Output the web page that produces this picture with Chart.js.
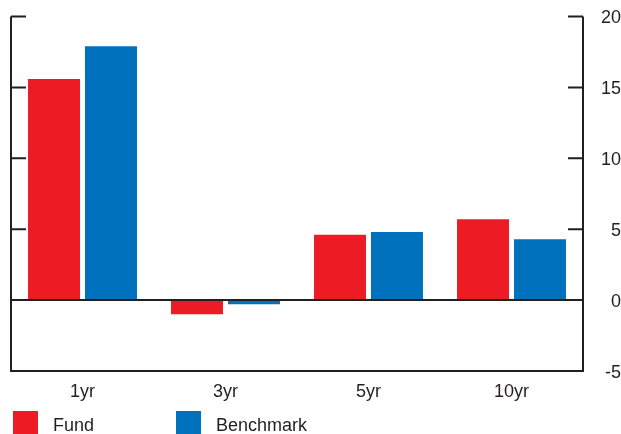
<!DOCTYPE html>
<html>
<head>
<meta charset="utf-8">
<script src="https://cdn.jsdelivr.net/npm/chart.js@4/dist/chart.umd.min.js"></script>
<style>
  html, body { margin: 0; padding: 0; background: #fff; }
  #chart { display: block; }
</style>
</head>
<body>
<canvas id="chart" width="621" height="434"></canvas>
<script>
'use strict';

// periods and returns (%)
const periods = ['1yr', '3yr', '5yr', '10yr'];
const fund = [15.6, -1.0, 4.6, 5.7];
const benchmark = [17.9, -0.3, 4.8, 4.3];
const yTicks = [20, 15, 10, 5, 0, -5];

const INK = '#231f20';
const FONT = '"Liberation Sans", Arial, sans-serif';

// frame, inward tick marks, zero line and the legend row underneath
const framePlugin = {
  id: 'frame',
  afterDatasetsDraw(chart) {
    const ctx = chart.ctx;
    const area = chart.chartArea;
    const y = chart.scales.y;
    const top = y.getPixelForValue(yTicks[0]);
    const bottom = y.getPixelForValue(yTicks[yTicks.length - 1]);

    ctx.save();
    ctx.strokeStyle = INK;
    ctx.lineWidth = 2;
    ctx.beginPath();
    ctx.moveTo(area.left, top);
    ctx.lineTo(area.left, bottom);
    ctx.lineTo(area.right, bottom);
    ctx.lineTo(area.right, top);
    yTicks.forEach(v => {
      const py = y.getPixelForValue(v);
      ctx.moveTo(area.left, py);
      ctx.lineTo(area.left + 15, py);
      ctx.moveTo(area.right - 15, py);
      ctx.lineTo(area.right, py);
    });
    const zero = y.getPixelForValue(0);
    ctx.moveTo(area.left, zero);
    ctx.lineTo(area.right, zero);
    ctx.stroke();

    // legend
    const slots = [13, 176];
    ctx.font = '18px ' + FONT;
    ctx.textBaseline = 'alphabetic';
    chart.data.datasets.forEach((ds, i) => {
      const x = slots[i];
      ctx.fillStyle = ds.backgroundColor;
      ctx.fillRect(x, 411, 25, 23);
      ctx.fillStyle = INK;
      ctx.fillText(ds.label, x + 40, 431);
    });
    ctx.restore();
  }
};

const ctx = document.getElementById('chart').getContext('2d');
new Chart(ctx, {
  type: 'bar',
  data: {
    labels: periods,
    datasets: [
      { label: 'Fund', data: fund, backgroundColor: '#ed1c24' },
      { label: 'Benchmark', data: benchmark, backgroundColor: '#0071bc' }
    ]
  },
  options: {
    responsive: false,
    animation: false,
    layout: { padding: { left: 11, top: 16.5, right: 0, bottom: 0 } },
    categoryPercentage: 0.797,
    barPercentage: 0.912,
    plugins: {
      legend: { display: false },
      tooltip: { enabled: false }
    },
    scales: {
      x: {
        grid: { display: false, drawTicks: false },
        border: { display: false },
        ticks: { color: INK, font: { family: FONT, size: 18 }, padding: 10 },
        afterFit: s => { s.height = 63; }
      },
      y: {
        position: 'right',
        min: -5,
        max: 20,
        grid: { display: false, drawTicks: false },
        border: { display: false },
        ticks: {
          stepSize: 5,
          color: INK,
          font: { family: FONT, size: 18 },
          padding: 15,
          crossAlign: 'far',
          labelOffset: 2
        },
        afterFit: s => {
          s.width = 38;
          s.paddingTop = 0;
          s.paddingBottom = 0;
        }
      }
    }
  },
  plugins: [framePlugin]
});
</script>
</body>
</html>
